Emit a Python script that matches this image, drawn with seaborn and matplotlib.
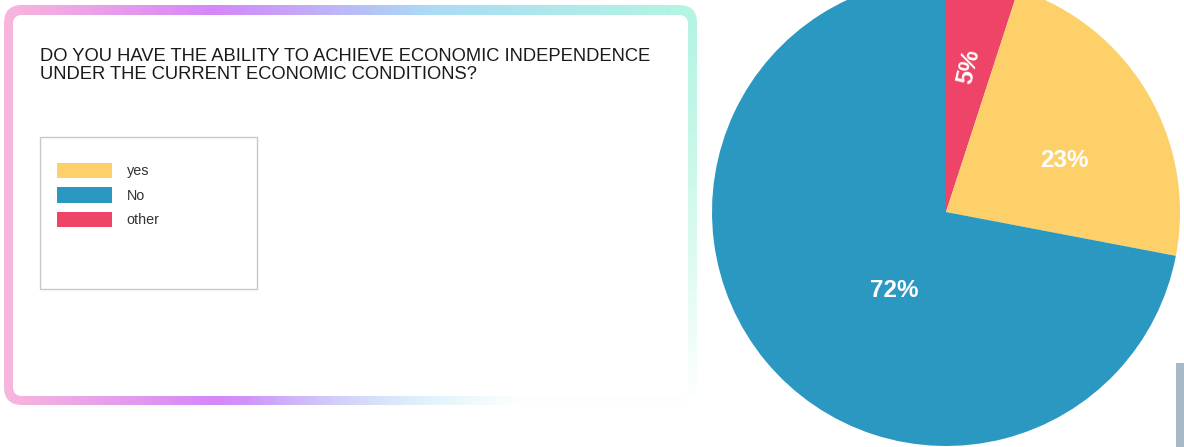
import numpy as np
import matplotlib
matplotlib.use("Agg")
import matplotlib.pyplot as plt
import seaborn as sns
from matplotlib.patches import FancyBboxPatch, Rectangle, Patch
from matplotlib.colors import LinearSegmentedColormap

# ---------------- data ----------------
title = "DO YOU HAVE THE ABILITY TO ACHIEVE ECONOMIC INDEPENDENCE\nUNDER THE CURRENT ECONOMIC CONDITIONS?"
legend_labels = ["yes", "No", "other"]
legend_colors = ["#FDD06A", "#2B98C1", "#EE4468"]
pie_labels = ["other", "yes", "No"]
pie_values = [5, 23, 72]
pie_colors = ["#EE4468", "#FDD06A", "#2B98C1"]

sns.set_theme(style="white")
plt.rcParams['font.family'] = ['Liberation Sans', 'DejaVu Sans']

W, H = 1184, 447
fig = plt.figure(figsize=(W / 100, H / 100), dpi=100)
fig.patch.set_facecolor("white")

# background axes in pixel coordinates
bg = fig.add_axes([0, 0, 1, 1])
bg.set_xlim(0, W)
bg.set_ylim(H, 0)
bg.axis("off")

# gradient rounded border
x0, y0, x1, y1 = 4, 5, 697, 405
nx, ny = 400, 200
xs = np.linspace(0, 1, nx)
ys = np.linspace(0, 1, ny)
cmap = LinearSegmentedColormap.from_list(
    "brd", [(0, "#F8B6DC"), (0.3, "#D587FA"), (0.62, "#AADCF5"), (1.0, "#B5F5E2")])
rgba = cmap(np.tile(xs, (ny, 1)))
X, Y = np.meshgrid(xs, ys)
fade = np.clip((X - 0.35) / 0.4, 0, 1)
alpha = 1 - np.clip(Y, 0, 1) ** 1.3 * fade
rgba[..., 3] = alpha
outer = FancyBboxPatch((x0, y0), x1 - x0, y1 - y0,
                       boxstyle="round,pad=0,rounding_size=18",
                       facecolor="none", edgecolor="none")
bg.add_patch(outer)
im = bg.imshow(rgba, extent=(x0, x1, y1, y0), aspect="auto", interpolation="bilinear")
im.set_clip_path(outer)
inner = FancyBboxPatch((13, 15), 688 - 13, 396 - 15,
                       boxstyle="round,pad=0,rounding_size=9",
                       facecolor="white", edgecolor="none")
bg.add_patch(inner)

# title
bg.text(40, 48, title, ha="left", va="top", fontsize=13.2, color="#1a1a1a",
        linespacing=1.08)

# legend frame and legend
bg.add_patch(Rectangle((40, 137), 217, 152, facecolor="white",
                       edgecolor="#C8C8C8", linewidth=1))
handles = [Patch(facecolor=c, edgecolor="none", label=l)
           for c, l in zip(legend_colors, legend_labels)]
fig.legend(handles=handles, loc="upper left",
           bbox_to_anchor=(51 / W, 1 - 157 / H), frameon=False, borderaxespad=0,
           handlelength=3.85, handleheight=1.25, handletextpad=1.0,
           labelspacing=0.62, fontsize=10.4, labelcolor="#333333")

# pie
cx, cy, r = 946, 212, 234
pax = fig.add_axes([(cx - r) / W, 1 - (cy + r) / H, 2 * r / W, 2 * r / H])
wedges, _ = pax.pie(pie_values, colors=pie_colors, startangle=90, counterclock=False,
                    radius=1, wedgeprops=dict(linewidth=0, edgecolor="none"))
pax.set_xlim(-1, 1)
pax.set_ylim(-1, 1)
pax.axis("off")

label_dist = [0.63, 0.55, 0.40]
angle_shift = [0, -7, 17]
rot = [77, 0, 0]
for w, v, d, s, ro in zip(wedges, pie_values, label_dist, angle_shift, rot):
    mid = np.deg2rad((w.theta1 + w.theta2) / 2 + s)
    pax.text(d * np.cos(mid), d * np.sin(mid), f"{v}%", ha="center", va="center",
             color="white", fontsize=17.5, fontweight="bold", rotation=ro)

# grey bar bottom-right
bg.add_patch(Rectangle((1176, 363), 8, 84, facecolor="#A7B9C6", edgecolor="none"))

fig.savefig("out.png", dpi=100, facecolor="white")
